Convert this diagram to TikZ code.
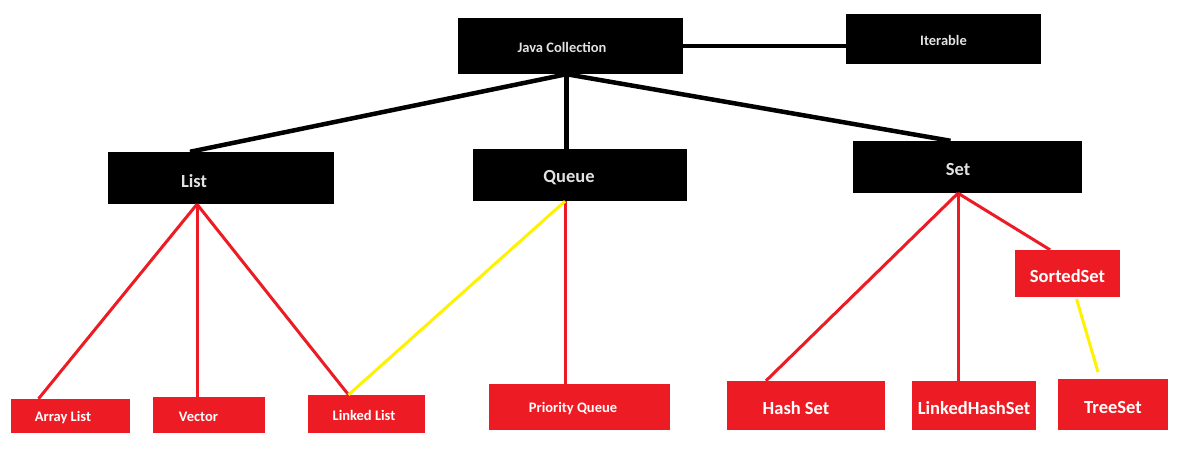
\documentclass[tikz,border=0pt]{standalone}
\usepackage{fontspec}
\setmainfont{Carlito}
\usetikzlibrary{positioning,calc}
\definecolor{paintred}{HTML}{ED1C24}
\definecolor{paintyellow}{HTML}{FFF200}
\definecolor{lightgrey}{HTML}{E2E2E2}

\begin{document}
\begin{tikzpicture}[x=1pt, y=-1pt,
  blackbox/.style={fill=black, inner sep=0pt},
  redbox/.style={fill=paintred, inner sep=0pt},
  blacktxt/.style={text=lightgrey, inner sep=0pt, yshift=-1.5pt},
  redtxt/.style={text=white, inner sep=0pt, yshift=-1.5pt},
  big/.style={font=\fontsize{18.5}{20}\selectfont\bfseries, yshift=-1.5pt},
  small/.style={font=\fontsize{14.5}{16}\selectfont\bfseries},
  tree/.style={line width=4.5pt},
  redline/.style={paintred, line width=3pt},
  yellowline/.style={paintyellow, line width=3pt}]

\fill[white] (0,0) rectangle (1181,460);

% top level
\node[blackbox, minimum width=225pt, minimum height=56pt, label={[blacktxt, small, xshift=-8.5pt]center:Java Collection}] (coll) at (570.5,46) {};
\node[blackbox, minimum width=195pt, minimum height=50pt, label={[blacktxt, small]center:Iterable}] (iter) at (943.5,39) {};

% interfaces
\node[blackbox, minimum width=226pt, minimum height=52pt, label={[blacktxt, big, xshift=-27pt]center:List}] (list) at (221,178) {};
\node[blackbox, minimum width=214pt, minimum height=52pt, label={[blacktxt, big, xshift=-11pt]center:Queue}] (queue) at (580,175) {};
\node[blackbox, minimum width=229pt, minimum height=52pt, label={[blacktxt, big, xshift=-9.5pt]center:Set}] (set) at (967.5,167) {};
\node[redbox, minimum width=105pt, minimum height=47pt, label={[redtxt, big]center:SortedSet}] (sset) at (1067.5,273.5) {};

% classes
\node[redbox, minimum width=119pt, minimum height=34pt, label={[redtxt, small, xshift=-7.5pt]center:Array List}] (alist) at (70.5,416) {};
\node[redbox, minimum width=112pt, minimum height=36pt, label={[redtxt, small, xshift=-10.5pt]center:Vector}] (vector) at (209,415) {};
\node[redbox, minimum width=117pt, minimum height=38pt, label={[redtxt, small, xshift=-2.5pt]center:Linked List}] (llist) at (366.5,414) {};
\node[redbox, minimum width=181pt, minimum height=46pt, label={[redtxt, small, xshift=-6.5pt]center:Priority Queue}] (pqueue) at (579.5,407) {};
\node[redbox, minimum width=158pt, minimum height=49pt, label={[redtxt, big, xshift=-10pt]center:Hash Set}] (hset) at (806,405.5) {};
\node[redbox, minimum width=124pt, minimum height=49pt, label={[redtxt, big]center:LinkedHashSet}] (lhset) at (974,405.5) {};
\node[redbox, minimum width=110pt, minimum height=51pt, label={[redtxt, big]center:TreeSet}] (tset) at (1113,404.5) {};

% black links
\coordinate (collfoot) at ([xshift=-4pt]coll.south);
\draw[tree] (coll.east) -- (coll.east -| iter.west);
\draw[tree] (collfoot) -- ([xshift=-31pt]list.north);
\draw[tree] (collfoot) -- (collfoot |- queue.north);
\draw[tree] (collfoot) -- ([xshift=-17pt]set.north);

% list
\coordinate (listfoot) at ([xshift=-24pt]list.south);
\draw[redline] (listfoot) -- ([xshift=-32pt]alist.north);
\draw[redline] (listfoot) -- (listfoot |- vector.north);
\draw[redline] (listfoot) -- ([xshift=-18pt]llist.north);

% queue
\coordinate (queuefoot) at ([xshift=-15pt]queue.south);
\draw[redline] (queuefoot) -- (queuefoot |- pqueue.north);
\draw[yellowline] (queuefoot) -- ([xshift=-18pt]llist.north);

% set
\coordinate (setfoot) at ([xshift=-9.5pt]set.south);
\draw[redline] (setfoot) -- ([xshift=-40pt]hset.north);
\draw[redline] (setfoot) -- (setfoot |- lhset.north);
\draw[redline] (setfoot) -- ([xshift=-17.5pt]sset.north);
\draw[yellowline, shorten <=2pt, shorten >=7pt] ([xshift=8.5pt]sset.south) -- ([xshift=-13pt]tset.north);

\end{tikzpicture}
\end{document}
